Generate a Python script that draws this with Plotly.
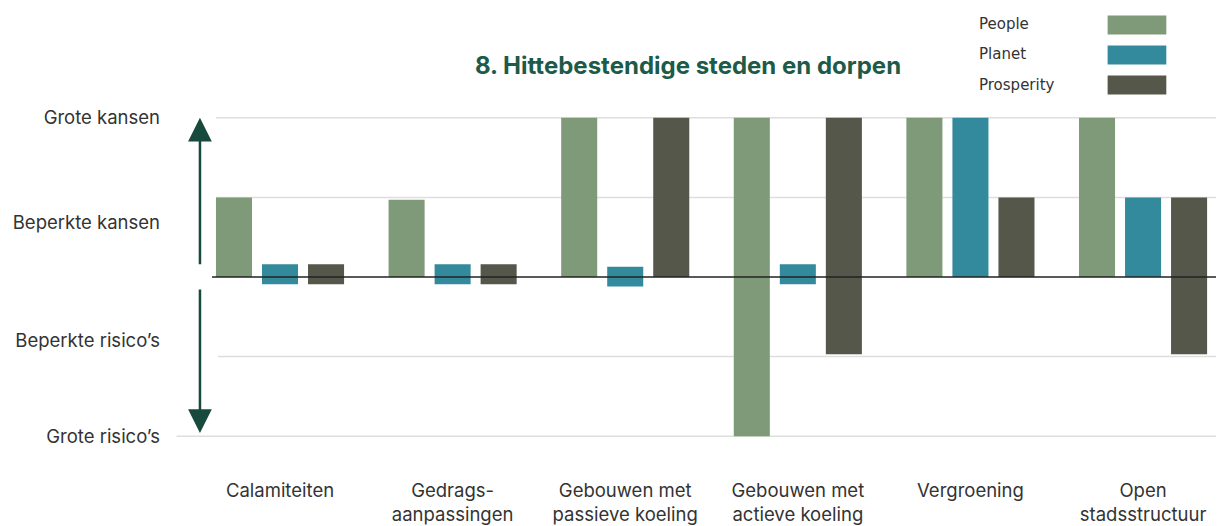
import plotly.graph_objects as go

categories = ["Calamiteiten", "Gedragsaanpassingen", "Gebouwen met passieve koeling",
              "Gebouwen met actieve koeling", "Vergroening", "Open stadsstructuur"]
tick_labels = ["Calamiteiten", "Gedrags-<br>aanpassingen", "Gebouwen met<br>passieve koeling",
               "Gebouwen met<br>actieve koeling", "Vergroening", "Open<br>stadsstructuur"]

# each bar runs from low to high (score scale -2 .. 2)
people_low = [0, 0, 0, -2, 0, 0]
people_high = [1, 0.97, 2, 2, 2, 2]
planet_low = [-0.09, -0.09, -0.12, -0.09, 0, 0]
planet_high = [0.16, 0.16, 0.13, 0.16, 2, 1]
prosperity_low = [-0.09, -0.09, 0, -0.97, 0, -0.97]
prosperity_high = [0.16, 0.16, 2, 2, 1, 1]

y_tickvals = [2, 0.69, -0.8, -2]
y_ticktext = ["Grote kansen", "Beperkte kansen", "Beperkte risico’s", "Grote risico’s"]

series = ["People", "Planet", "Prosperity"]
colors = ["#7f9a79", "#348a9d", "#55574b"]

font = "Inter, Roboto, sans-serif"

# page has an 8px body margin: figure is 1216x518 so it fits the window exactly
W, HT = 1216, 518
TOP, BOT = 70, 468
H = BOT - TOP

fig = go.Figure()
for name, low, high, col in zip(series,
                                [people_low, planet_low, prosperity_low],
                                [people_high, planet_high, prosperity_high],
                                colors):
    fig.add_trace(go.Bar(x=categories, y=[h - l for h, l in zip(high, low)], base=low,
                         name=name, marker=dict(color=col, line=dict(width=0)),
                         showlegend=False))

# gridlines / zero line
for val, x0 in [(2, 0.004), (1, 0.004), (-1, 0.006), (-2, -0.035)]:
    fig.add_shape(type="line", xref="paper", yref="y", x0=x0, x1=1, y0=val, y1=val,
                  line=dict(color="#dedede", width=1.5), layer="below")
fig.add_shape(type="line", xref="paper", yref="y", x0=0, x1=1, y0=0, y1=0,
              line=dict(color="#222222", width=1.5))

# the double arrow on the left, broken at the zero line
arrow_col = "#17493c"
fig.add_annotation(xref="paper", yref="y", x=-0.0119, y=2, ax=0, ay=148,
                   text="", showarrow=True, arrowhead=2, arrowsize=1.9,
                   arrowwidth=2.5, arrowcolor=arrow_col)
fig.add_annotation(xref="paper", yref="y", x=-0.0119, y=-1.96, ax=0, ay=-145,
                   text="", showarrow=True, arrowhead=2, arrowsize=1.9,
                   arrowwidth=2.5, arrowcolor=arrow_col)

# custom legend: label left, swatch right
for i, (name, col) in enumerate(zip(series, colors)):
    yc = 25 + 30 * i - 8
    ypap = (BOT - yc) / H
    fig.add_annotation(xref="paper", yref="paper", x=0.756, y=ypap + 0.5 / H, text=name,
                       showarrow=False, xanchor="left", yanchor="middle",
                       font=dict(family="DejaVu Sans, sans-serif", size=15, color="#333333"))
    fig.add_shape(type="rect", xref="paper", yref="paper", x0=0.885, x1=0.943,
                  y0=ypap - 9.5 / H, y1=ypap + 9.5 / H,
                  fillcolor=col, line=dict(width=0))

fig.update_layout(
    width=W, height=HT,
    margin=dict(l=204, r=0, t=TOP, b=HT - BOT),
    plot_bgcolor="white", paper_bgcolor="white",
    barmode="group", bargap=0.2, bargroupgap=0.217,
    font=dict(family=font, size=18, color="#333333"),
    title=dict(text="<b>8. Hittebestendige steden en dorpen</b>", x=680 / W, y=1 - 58 / HT,
               xref="container", yref="container", xanchor="center", yanchor="middle",
               font=dict(family=font, size=24, color="#1d5a48")),
    xaxis=dict(range=[-0.394, 5.469], tickvals=categories, ticktext=tick_labels,
               showgrid=False, zeroline=False, showline=False, ticks="",
               automargin=False, ticklabelstandoff=1, tickfont=dict(size=18.5)),
    yaxis=dict(range=[-2.5, 2.5], tickvals=y_tickvals, ticktext=y_ticktext,
               showgrid=False, zeroline=False, showline=False, ticks="",
               automargin=False, ticklabelstandoff=51, tickfont=dict(size=18.5)),
)

fig.write_html("out.html")
